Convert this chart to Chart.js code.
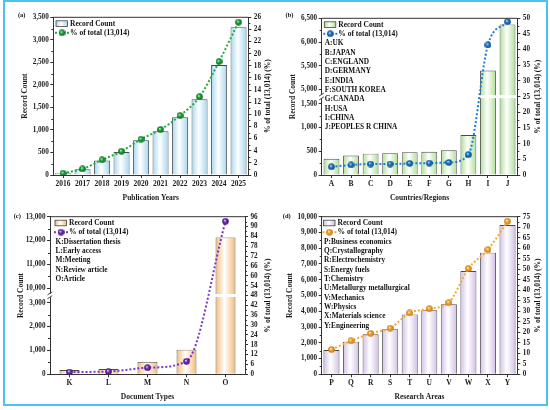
<!DOCTYPE html>
<html>
<head>
<meta charset="utf-8">
<script src="https://cdn.jsdelivr.net/npm/chart.js@4.4.0/dist/chart.umd.min.js"></script>
<style>
html, body { margin: 0; padding: 0; background: #fff; }
#fig { position: relative; width: 550px; height: 410px; }
#fig canvas { position: absolute; }
#frame { position: absolute; left: 3px; top: 0; width: 545px; height: 406px; box-sizing: border-box;
         border: 2px solid #4fc1ef; pointer-events: none; }
</style>
</head>
<body>
<div id="fig">
  <canvas id="chartA" width="275" height="205" style="left:0;top:0;width:275px;height:205px"></canvas>
  <canvas id="chartB" width="275" height="205" style="left:275px;top:0;width:275px;height:205px"></canvas>
  <canvas id="chartC" width="275" height="205" style="left:0;top:205px;width:275px;height:205px"></canvas>
  <canvas id="chartD" width="275" height="205" style="left:275px;top:205px;width:275px;height:205px"></canvas>
  <div id="frame"></div>
</div>
<script>
// (a) publication years
const yearLabels = ['2016', '2017', '2018', '2019', '2020', '2021', '2022', '2023', '2024', '2025'];
const yearCounts = [40, 130, 320, 510, 770, 970, 1280, 1680, 2440, 3280];
const yearShare = [0.3, 1.0, 2.5, 3.9, 5.9, 7.5, 9.8, 12.9, 18.7, 25.2];
const yearTicks = [0, 500, 1000, 1500, 2000, 2500, 3000, 3500];

// (b) countries / regions
const countryLabels = ['A', 'B', 'C', 'D', 'E', 'F', 'G', 'H', 'I', 'J'];
const countryCounts = [340, 410, 450, 460, 480, 490, 520, 840, 5400, 6370];
const countryShare = [2.6, 3.2, 3.5, 3.5, 3.7, 3.8, 4.0, 6.5, 41.5, 48.9];
const countryTicks = [0, 500, 1000, 1500, 5000, 5500, 6000, 6500];
const countryKey = ['A:UK', 'B:JAPAN', 'C:ENGLAND', 'D:GERMANY', 'E:INDIA', 'F:SOUTH KOREA',
                    'G:CANADA', 'H:USA', 'I:CHINA', 'J:PEOPLES R CHINA'];

// (c) document types
const docLabels = ['K', 'L', 'M', 'N', 'O'];
const docCounts = [180, 220, 520, 1030, 12130];
const docShare = [1.4, 1.7, 4.0, 7.9, 93.2];
const docTicks = [0, 1000, 2000, 3000, 10000, 11000, 12000, 13000];
const docKey = ['K:Dissertation thesis', 'L:Early access', 'M:Meeting', 'N:Review article', 'O:Article'];

// (d) research areas
const areaLabels = ['P', 'Q', 'R', 'S', 'T', 'U', 'V', 'W', 'X', 'Y'];
const areaCounts = [1540, 2070, 2540, 2860, 3800, 4060, 4440, 6550, 7720, 9470];
const areaShare = [11.8, 15.9, 19.5, 22.0, 29.2, 31.2, 34.1, 50.3, 59.3, 72.8];
const areaTicks = [0, 1000, 2000, 3000, 4000, 5000, 6000, 7000, 8000, 9000, 10000];
const areaKey = ['P:Business economics', 'Q:Crystallography', 'R:Electrochemistry', 'S:Energy fuels',
                 'T:Chemistry', 'U:Metallurgy metallurgical', 'V:Mechanics', 'W:Physics',
                 'X:Materials science', 'Y:Engineering'];

Chart.defaults.font.family = '"Liberation Serif", "Times New Roman", serif';
Chart.defaults.font.weight = 'bold';
Chart.defaults.color = '#1a1a1a';

const AXIS = '#333';
const TITLE_PX = 7.5;
const TITLE_LH = TITLE_PX * 1.2;

// broken axis: values above "hi" are pulled down so they sit just after "lo" + gap
function toDisplay(v, brk) {
    if (!brk || v <= brk.lo) return v;
    return v - brk.hi + brk.lo + brk.gap;
}
function fromDisplay(d, brk) {
    if (!brk || d <= brk.lo) return d;
    return d - brk.lo - brk.gap + brk.hi;
}

function barGradient(ctx, x0, x1, edge) {
    if (!Number.isFinite(x0) || !Number.isFinite(x1)) return edge;
    const g = ctx.createLinearGradient(x0, 0, x1, 0);
    g.addColorStop(0, edge);
    g.addColorStop(0.45, '#ffffff');
    g.addColorStop(1, edge);
    return g;
}

// little shaded ball used as the line marker
function sphere(color, dark) {
    const size = 7;
    const c = document.createElement('canvas');
    c.width = c.height = size;
    const g = c.getContext('2d');
    const r = size / 2 - 0.2;
    const grad = g.createRadialGradient(size * 0.4, size * 0.38, 0.2, size / 2, size / 2, r);
    grad.addColorStop(0, '#ffffff');
    grad.addColorStop(0.3, color);
    grad.addColorStop(1, dark);
    g.fillStyle = grad;
    g.beginPath();
    g.arc(size / 2, size / 2, r, 0, Math.PI * 2);
    g.fill();
    return c;
}

const boxPlugin = {
    id: 'boxFrame',
    afterDraw(chart, args, opts) {
        const { ctx, chartArea: a } = chart;
        ctx.save();
        ctx.strokeStyle = AXIS;
        ctx.lineWidth = 1;
        ctx.beginPath();
        ctx.moveTo(a.left, a.top);
        ctx.lineTo(a.right, a.top);
        ctx.stroke();
        // minor ticks halfway between majors
        ['y', 'y1'].forEach(id => {
            const s = chart.scales[id];
            const t = s.ticks;
            if (t.length < 2) return;
            const step = t[1].value - t[0].value;
            const x = id === 'y' ? a.left : a.right;
            const dir = id === 'y' ? -1 : 1;
            for (let i = 0; i < t.length - 1; i++) {
                if (Math.abs(t[i + 1].value - t[i].value - step) > 1e-6) continue;
                const py = Math.round(s.getPixelForValue((t[i].value + t[i + 1].value) / 2)) + 0.5;
                ctx.beginPath();
                ctx.moveTo(x, py);
                ctx.lineTo(x + dir * 2, py);
                ctx.stroke();
            }
        });
        ctx.fillStyle = '#111';
        ctx.textAlign = 'center';
        ctx.textBaseline = 'middle';
        // right axis title reads bottom to top, like the left one
        ctx.save();
        ctx.translate(opts.rightTitleX, (a.top + a.bottom) / 2);
        ctx.rotate(-Math.PI / 2);
        ctx.font = 'bold ' + TITLE_PX + 'px "Liberation Serif"';
        ctx.fillText('% of total (13,014) (%)', 0, 0);
        ctx.restore();
        ctx.font = 'bold 6.5px "Liberation Serif"';
        ctx.fillText(opts.tag, opts.tagX, opts.tagY);
        ctx.restore();
    }
};

const legendPlugin = {
    id: 'panelLegend',
    afterDraw(chart, args, opts) {
        const { ctx, chartArea: a } = chart;
        const x0 = a.left + opts.dx;
        ctx.save();
        let y = a.top + 6.3;
        ctx.fillStyle = barGradient(ctx, x0, x0 + 11.5, opts.barEdge);
        ctx.fillRect(x0, y - 2.8, 11.5, 5.6);
        ctx.strokeStyle = '#444';
        ctx.lineWidth = 0.8;
        ctx.strokeRect(x0, y - 2.8, 11.5, 5.6);
        ctx.font = 'bold 7.5px "Liberation Serif"';
        ctx.fillStyle = '#111';
        ctx.textBaseline = 'middle';
        ctx.fillText('Record Count', x0 + 14, y);

        y = a.top + 15.5;
        ctx.strokeStyle = opts.lineColor;
        ctx.lineWidth = 2;
        ctx.setLineDash([2, 2]);
        ctx.beginPath();
        ctx.moveTo(x0 - 1, y);
        ctx.lineTo(x0 + 13, y);
        ctx.stroke();
        ctx.setLineDash([]);
        ctx.drawImage(opts.marker, x0 + 6 - 3.5, y - 3.5);
        ctx.fillText('% of total (13,014)', x0 + 14, y);

        ctx.font = 'bold 7.3px "Liberation Serif"';
        opts.keys.forEach((k, i) => ctx.fillText(k, x0 + 0.5, a.top + 25 + i * 9.35));
        ctx.restore();
    }
};

const breakPlugin = {
    id: 'axisBreak',
    afterDatasetDraw(chart, args, opts) {
        if (!opts.brk || args.index !== 0) return;
        const { ctx } = chart;
        const y = chart.scales.y.getPixelForValue(opts.brk.lo + opts.brk.gap / 2);
        ctx.save();
        ctx.fillStyle = '#fff';
        args.meta.data.forEach((bar, i) => {
            if (opts.raw[i] <= opts.brk.lo) return;
            ctx.fillRect(bar.x - bar.width / 2 - 1, y - 1.5, bar.width + 2, 3);
        });
        ctx.restore();
    },
    afterDraw(chart, args, opts) {
        if (!opts.brk) return;
        const { ctx, chartArea: a } = chart;
        const y = chart.scales.y.getPixelForValue(opts.brk.lo + opts.brk.gap / 2);
        ctx.save();
        ctx.fillStyle = '#fff';
        ctx.fillRect(a.left - 1.5, y - 1.8, 3, 3.6);
        ctx.strokeStyle = AXIS;
        ctx.lineWidth = 0.9;
        ctx.beginPath();
        ctx.moveTo(a.left - 2.5, y - 0.6);
        ctx.lineTo(a.left + 2.2, y - 3.6);
        ctx.moveTo(a.left - 2.5, y + 3.2);
        ctx.lineTo(a.left + 2.2, y + 0.2);
        ctx.stroke();
        ctx.restore();
    }
};

function makePanel(id, p) {
    const W = 275, H = 205;
    const pad = {
        left: p.leftTitleX - TITLE_LH / 2,
        right: W - (p.rightTitleX + TITLE_LH / 2),
        top: p.area.t,
        bottom: H - (p.xTitleY + TITLE_LH / 2)
    };
    const leftW = p.area.l - pad.left;
    const rightW = p.rightTitleX + TITLE_LH / 2 - p.area.r;
    const xH = p.xTitleY + TITLE_LH / 2 - p.area.b;
    const marker = sphere(p.lineColor, p.lineDark);
    const brk = p.brk || null;
    const yMax = toDisplay(p.countTicks[p.countTicks.length - 1], brk);

    return new Chart(document.getElementById(id), {
        data: {
            labels: p.labels,
            datasets: [
                {
                    type: 'bar',
                    data: p.counts.map(v => toDisplay(v, brk)),
                    yAxisID: 'y',
                    order: 1,
                    backgroundColor: ctx => {
                        const chart = ctx.chart;
                        const xs = chart.scales && chart.scales.x;
                        if (!xs || !chart.chartArea || ctx.dataIndex === undefined) return p.barEdge;
                        const w = xs.width / chart.data.labels.length * p.barPct;
                        const cx = xs.getPixelForValue(ctx.dataIndex);
                        return barGradient(chart.ctx, cx - w / 2, cx + w / 2, p.barEdge);
                    },
                    borderColor: '#4a4a4a',
                    borderWidth: 0.9,
                    borderSkipped: 'start',
                    categoryPercentage: 1,
                    barPercentage: p.barPct
                },
                {
                    type: 'line',
                    data: p.share,
                    yAxisID: 'y1',
                    order: 0,
                    borderColor: p.lineColor,
                    borderWidth: 2,
                    borderDash: [2, 2],
                    cubicInterpolationMode: 'monotone',
                    fill: false,
                    pointStyle: marker,
                    pointRadius: 3.5
                }
            ]
        },
        options: {
            responsive: false,
            animation: false,
            events: [],
            layout: { padding: pad },
            plugins: {
                legend: { display: false },
                tooltip: { enabled: false },
                boxFrame: { tag: p.tag, tagX: p.tagX, tagY: p.tagY, rightTitleX: p.rightTitleX },
                panelLegend: { dx: p.legendDx, barEdge: p.barEdge, lineColor: p.lineColor, marker: marker, keys: p.keys },
                axisBreak: { brk: brk, raw: p.counts }
            },
            scales: {
                x: {
                    offset: true,
                    grid: { offset: false, drawOnChartArea: false, tickLength: 3, tickColor: AXIS },
                    border: { color: AXIS, width: 1 },
                    ticks: { font: { size: 7.5 }, padding: 1.5, maxRotation: 0, autoSkip: false },
                    title: { display: true, text: p.xTitle, font: { size: TITLE_PX }, padding: 0 },
                    afterFit: s => { s.height = xH; }
                },
                y: {
                    position: 'left',
                    min: 0,
                    max: yMax,
                    grid: { drawOnChartArea: false, tickLength: 3, tickColor: AXIS },
                    border: { color: AXIS, width: 1 },
                    afterBuildTicks: s => { s.ticks = p.countTicks.map(v => ({ value: toDisplay(v, brk) })); },
                    ticks: {
                        font: { size: 7.2 },
                        padding: 1.5,
                        autoSkip: false,
                        callback: v => Math.round(fromDisplay(v, brk)).toLocaleString('en-US')
                    },
                    title: { display: true, text: 'Record Count', font: { size: TITLE_PX }, padding: 0 },
                    afterFit: s => { s.width = leftW; }
                },
                y1: {
                    position: 'right',
                    min: 0,
                    max: p.shareMax,
                    grid: { drawOnChartArea: false, tickLength: 3, tickColor: AXIS },
                    border: { color: AXIS, width: 1 },
                    ticks: { font: { size: 7.2 }, padding: 2.5, stepSize: p.shareStep, autoSkip: false },
                    title: { display: false },
                    afterFit: s => { s.width = rightW; }
                }
            }
        },
        plugins: [boxPlugin, legendPlugin, breakPlugin]
    });
}

makePanel('chartA', {
    labels: yearLabels, counts: yearCounts, share: yearShare, countTicks: yearTicks,
    shareMax: 26, shareStep: 2, keys: [],
    barEdge: '#a6d6f0', barPct: 0.82, lineColor: '#1fae3c', lineDark: '#0b6a1f',
    xTitle: 'Publication Years', tag: '(a)', tagX: 21.7, tagY: 15.7, legendDx: 2.7,
    area: { l: 53.3, r: 248.3, t: 17.3, b: 175 }, leftTitleX: 25, rightTitleX: 268.3, xTitleY: 198
});

makePanel('chartB', {
    labels: countryLabels, counts: countryCounts, share: countryShare, countTicks: countryTicks,
    brk: { lo: 1500, hi: 5000, gap: 300 },
    shareMax: 50, shareStep: 5, keys: countryKey,
    barEdge: '#aedf95', barPct: 0.81, lineColor: '#1b7fd4', lineDark: '#0b4a8a',
    xTitle: 'Countries/Regions', tag: '(b)', tagX: 14.5, tagY: 15, legendDx: 2.6,
    area: { l: 46.7, r: 242.3, t: 18.3, b: 175 }, leftTitleX: 18, rightTitleX: 263.3, xTitleY: 198.3
});

makePanel('chartC', {
    labels: docLabels, counts: docCounts, share: docShare, countTicks: docTicks,
    brk: { lo: 3000, hi: 10000, gap: 600 },
    shareMax: 96, shareStep: 6, keys: docKey,
    barEdge: '#f5bb78', barPct: 0.51, lineColor: '#7b36c2', lineDark: '#3f1470',
    xTitle: 'Document Types', tag: '(c)', tagX: 17.3, tagY: 11, legendDx: 5,
    area: { l: 50, r: 245, t: 11.7, b: 169.3 }, leftTitleX: 20.7, rightTitleX: 268.3, xTitleY: 192.3
});

makePanel('chartD', {
    labels: areaLabels, counts: areaCounts, share: areaShare, countTicks: areaTicks,
    shareMax: 75, shareStep: 5, keys: areaKey,
    barEdge: '#d2bfe6', barPct: 0.82, lineColor: '#f7a830', lineDark: '#c47a0c',
    xTitle: 'Research Areas', tag: '(d)', tagX: 11.7, tagY: 11, legendDx: 1.8,
    area: { l: 46.7, r: 242.3, t: 11.7, b: 169.3 }, leftTitleX: 15.5, rightTitleX: 263.3, xTitleY: 192.3
});
</script>
</body>
</html>
